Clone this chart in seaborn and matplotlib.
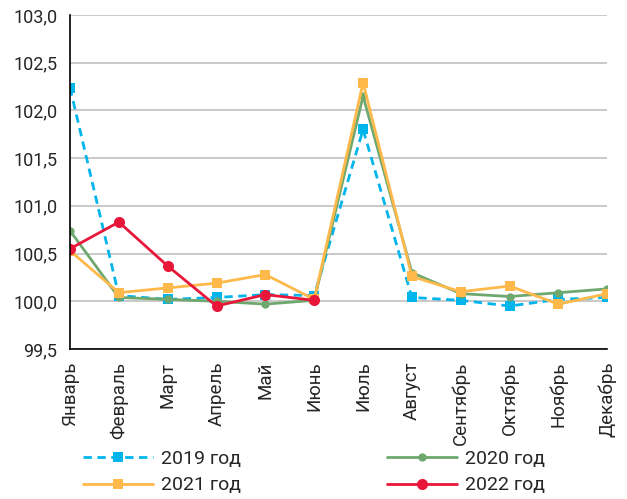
import matplotlib
matplotlib.use("Agg")
import matplotlib.pyplot as plt
import seaborn as sns
import numpy as np
import pandas as pd
from matplotlib.lines import Line2D

months = ["Январь", "Февраль", "Март", "Апрель", "Май", "Июнь", "Июль",
          "Август", "Сентябрь", "Октябрь", "Ноябрь", "Декабрь"]
y2019 = [102.24, 100.06, 100.02, 100.04, 100.07, 100.06, 101.80, 100.04, 100.01, 99.95, 100.02, 100.04]
y2020 = [100.74, 100.04, 100.02, 100.00, 99.97, 100.01, 102.15, 100.30, 100.08, 100.05, 100.09, 100.13]
y2021 = [100.53, 100.09, 100.14, 100.19, 100.28, 100.02, 102.29, 100.26, 100.10, 100.16, 99.97, 100.08]
y2022 = [100.55, 100.83, 100.37, 99.95, 100.07, 100.01]
labels = ["2019 год", "2020 год", "2021 год", "2022 год"]
yticks = [99.5, 100.0, 100.5, 101.0, 101.5, 102.0, 102.5, 103.0]

sns.set_theme(style="white")
plt.rcParams['font.family'] = ['Roboto', 'DejaVu Sans']

colors = ["#00B4EC", "#6EA86E", "#FFB84A", "#E8173A"]
markers = ["s", "o", "s", "o"]
msizes = [7, 6, 7, 8]
styles = [(0, (3, 2)), "-", "-", "-"]

fig = plt.figure(figsize=(6.27, 4.99), dpi=100)
ax = fig.add_axes([0.1116, 0.3006, 0.857, 0.6694])

series = [y2019, y2020, y2021, y2022]
handles = []
for vals, lab, c, m, ms, ls in zip(series, labels, colors, markers, msizes, styles):
    df = pd.DataFrame({"x": np.arange(len(vals)), "y": vals})
    sns.lineplot(data=df, x="x", y="y", ax=ax, color=c, linewidth=2, linestyle=ls,
                 marker=m, markersize=ms, markeredgewidth=0, legend=False)
    handles.append(Line2D([0], [0], color=c, lw=2, ls=ls, marker=m, markersize=ms,
                          markeredgewidth=0))

ax.set_xlim(0, 11)
ax.set_ylim(99.5, 103.0)
ax.set_yticks(yticks)
ax.set_yticklabels([f"{v:.1f}".replace(".", ",") for v in yticks], fontsize=13)
ax.set_xticks(range(12))
ax.set_xticklabels(months, rotation=90, fontsize=13.5)
ax.set_xlabel("")
ax.set_ylabel("")
ax.yaxis.grid(True, color="#C0C0C0", linewidth=1.2)
ax.xaxis.grid(False)
for s in ["top", "right"]:
    ax.spines[s].set_visible(False)
for s in ["left", "bottom"]:
    ax.spines[s].set_color("black")
    ax.spines[s].set_linewidth(1.2)
ax.tick_params(axis="x", direction="out", length=6, width=1.2, color="black", pad=3)
ax.tick_params(axis="y", direction="out", length=6, width=1.2, color="black", pad=3)
ax.set_axisbelow(True)

order = [0, 2, 1, 3]
leg = fig.legend([handles[i] for i in order], [labels[i] for i in order],
                 ncol=2, loc="center left", bbox_to_anchor=(0.105, 0.054),
                 frameon=False, fontsize=14, handlelength=3.6, handletextpad=0.4,
                 columnspacing=7.5, labelspacing=0.45)

fig.savefig("out.png", dpi=100)
